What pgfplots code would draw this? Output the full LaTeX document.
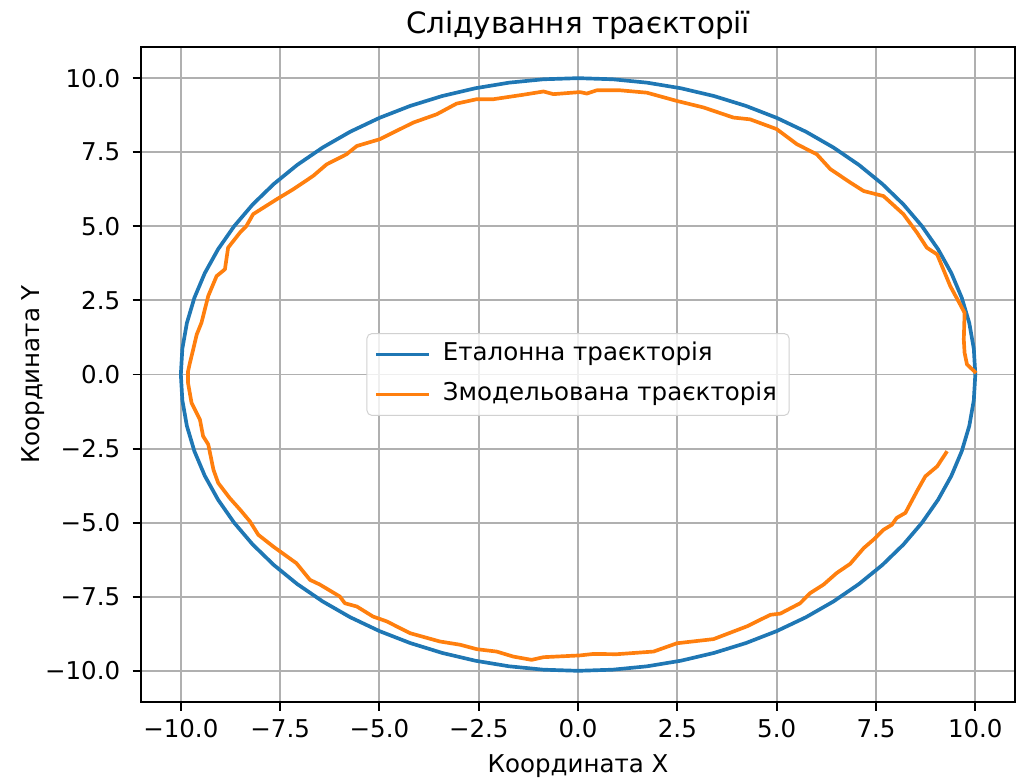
\documentclass[border=0pt]{standalone}
\usepackage{fontspec}
\setmainfont{DejaVu Sans}
\usepackage{pgfplots}
\pgfplotsset{compat=1.18}
\definecolor{mplblue}{HTML}{1F77B4}
\definecolor{mplorange}{HTML}{FF7F0E}
\definecolor{gridgray}{HTML}{B0B0B0}
\begin{document}
\fontsize{10}{12}\selectfont
\begin{tikzpicture}
\useasboundingbox (-57.6pt,-32.2pt) rectangle (357.5pt,286.5pt);
\begin{axis}[
  at={(0pt,0pt)}, anchor=south west,
  scale only axis,
  width=356.7pt, height=267.3pt,
  xmin=-11, xmax=11, ymin=-11.05, ymax=11.05,
  axis line style={black, line width=0.8pt},
  tick align=outside,
  tick pos=left,
  major tick length=3.5pt,
  every tick/.style={black, line width=0.8pt},
  xtick={-10,-7.5,-5,-2.5,0,2.5,5,7.5,10},
  ytick={-10,-7.5,-5,-2.5,0,2.5,5,7.5,10},
  xticklabels={−10.0,−7.5,−5.0,−2.5,0.0,2.5,5.0,7.5,10.0},
  yticklabels={−10.0,−7.5,−5.0,−2.5,0.0,2.5,5.0,7.5,10.0},
  ticklabel style={font=\fontsize{10}{12}\selectfont, text=black},
  xticklabel style={yshift=0pt},
  yticklabel style={xshift=-1.5pt},
  grid=major,
  major grid style={gridgray, line width=0.8pt},
  title={Слідування траєкторії},
  title style={font=\fontsize{12}{14}\selectfont, yshift=-6.5pt},
  xlabel={Координата X},
  ylabel={Координата Y},
  label style={font=\fontsize{10}{12}\selectfont},
  xlabel style={yshift=0pt},
  ylabel style={yshift=-6.5pt},
  legend style={at={(0.5,0.5)}, anchor=center, draw=black!18, rounded corners=2pt,
    fill=white, fill opacity=0.8, text opacity=1, font=\fontsize{10}{12}\selectfont,
    inner xsep=3pt, inner ysep=1.5pt, row sep=2.4pt,
    nodes={inner sep=2pt, text height=7.6pt, text depth=2.4pt},
    /tikz/every odd column/.style={column sep=3pt}},
  legend cell align=left,
  legend image code/.code={\draw[#1] (0pt,0pt) -- (21.5pt,0pt);},
]
\addplot[mplblue, line width=1.5pt] coordinates {
(10,0) (9.962,0.872) (9.848,1.736) (9.659,2.588) (9.397,3.420) (9.063,4.226) (8.660,5.000) (8.192,5.736) (7.660,6.428) (7.071,7.071) (6.428,7.660) (5.736,8.192) (5.000,8.660) (4.226,9.063) (3.420,9.397) (2.588,9.659) (1.736,9.848) (0.872,9.962) (0,10)
(-0.872,9.962) (-1.736,9.848) (-2.588,9.659) (-3.420,9.397) (-4.226,9.063) (-5.000,8.660) (-5.736,8.192) (-6.428,7.660) (-7.071,7.071) (-7.660,6.428) (-8.192,5.736) (-8.660,5.000) (-9.063,4.226) (-9.397,3.420) (-9.659,2.588) (-9.848,1.736) (-9.962,0.872) (-10,0)
(-9.962,-0.872) (-9.848,-1.736) (-9.659,-2.588) (-9.397,-3.420) (-9.063,-4.226) (-8.660,-5.000) (-8.192,-5.736) (-7.660,-6.428) (-7.071,-7.071) (-6.428,-7.660) (-5.736,-8.192) (-5.000,-8.660) (-4.226,-9.063) (-3.420,-9.397) (-2.588,-9.659) (-1.736,-9.848) (-0.872,-9.962) (0,-10)
(0.872,-9.962) (1.736,-9.848) (2.588,-9.659) (3.420,-9.397) (4.226,-9.063) (5.000,-8.660) (5.736,-8.192) (6.428,-7.660) (7.071,-7.071) (7.660,-6.428) (8.192,-5.736) (8.660,-5.000) (9.063,-4.226) (9.397,-3.420) (9.659,-2.588) (9.848,-1.736) (9.962,-0.872) (10,0)
};
\addlegendentry{Еталонна траєкторія}
\addplot[mplorange, line width=1.5pt, line join=round] coordinates {
(10.02,0.05) (9.79,0.34) (9.73,0.73) (9.71,1.18) (9.73,2.08) (9.62,2.36) (9.37,2.98) (9.04,4.05) (8.78,4.28) (8.53,4.79) (8.19,5.41) (7.69,6.02) (7.19,6.19) (6.85,6.48) (6.35,6.93) (6.01,7.43) (5.51,7.77) (5.00,8.28) (4.33,8.61) (3.91,8.67) (3.16,9.01) (2.49,9.23) (1.73,9.51) (1.06,9.59) (0.47,9.59) (0.22,9.48) (0.05,9.53)
(-0.62,9.46) (-0.87,9.55) (-1.38,9.44) (-2.13,9.29) (-2.55,9.29) (-3.06,9.14) (-3.56,8.78) (-4.15,8.50) (-4.99,7.94) (-5.57,7.71) (-5.83,7.43) (-6.33,7.09) (-6.67,6.70) (-7.17,6.25) (-7.59,5.91) (-8.18,5.41) (-8.35,5.01) (-8.51,4.79) (-8.81,4.28) (-8.89,3.55) (-9.10,3.32) (-9.31,2.65) (-9.48,1.75) (-9.60,1.35) (-9.69,0.84) (-9.77,0.40) (-9.82,0.10) (-9.82,-0.28)
(-9.73,-0.96) (-9.52,-1.52) (-9.44,-2.08) (-9.31,-2.36) (-9.18,-3.21) (-9.06,-3.66) (-8.77,-4.17) (-8.51,-4.56) (-8.26,-4.96) (-8.05,-5.41) (-7.68,-5.80) (-7.09,-6.37) (-6.75,-6.93) (-6.50,-7.09) (-6.00,-7.49) (-5.87,-7.72) (-5.57,-7.83) (-5.16,-8.17) (-4.82,-8.33) (-4.23,-8.73) (-3.48,-9.01) (-2.97,-9.12) (-2.55,-9.27) (-2.05,-9.35) (-1.63,-9.52) (-1.17,-9.63) (-0.87,-9.54) (0.05,-9.48)
(0.39,-9.43) (0.97,-9.44) (1.90,-9.35) (2.49,-9.07) (3.41,-8.93) (4.25,-8.50) (4.84,-8.11) (5.09,-8.07) (5.59,-7.72) (5.84,-7.38) (6.18,-7.09) (6.51,-6.70) (6.85,-6.39) (7.19,-5.86) (7.44,-5.57) (7.69,-5.24) (7.90,-5.07) (8.02,-4.84) (8.24,-4.67) (8.53,-3.94) (8.74,-3.44) (9.04,-3.10) (9.29,-2.59)
};
\addlegendentry{Змодельована траєкторія}
\end{axis}
\end{tikzpicture}
\end{document}
